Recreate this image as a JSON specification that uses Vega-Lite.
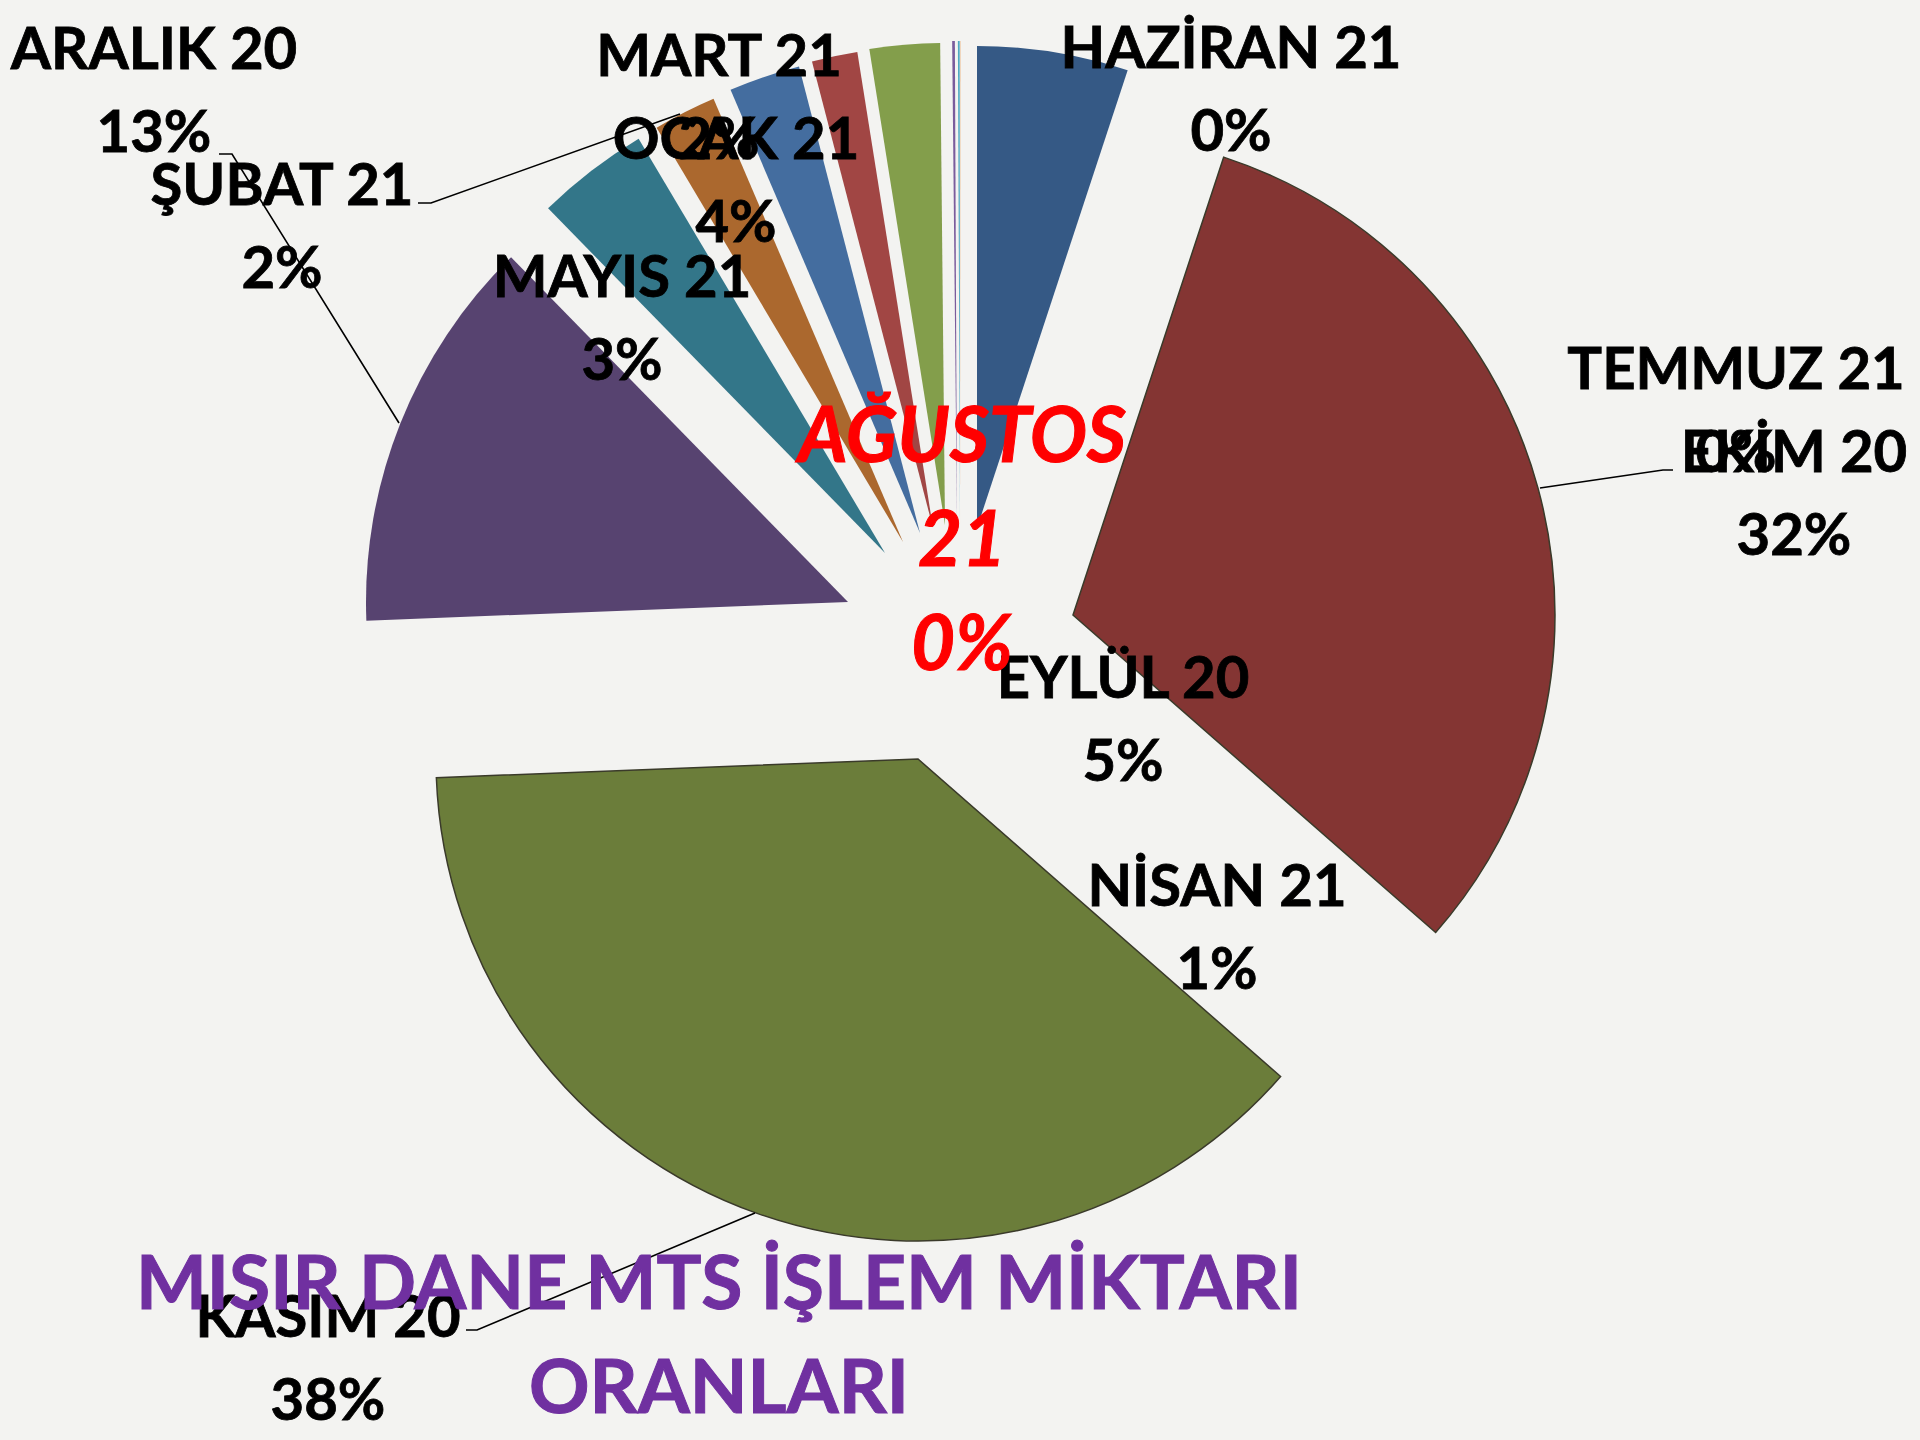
{"$schema":"https://vega.github.io/schema/vega-lite/v6.json","width":1920,"height":1440,"padding":0,"autosize":{"type":"none"},"background":"#f3f3f1","config":{"view":{"stroke":null}},
"datasets":{"slices":[
{"ay":"EYLÜL 20","sira":1,"oran":5.06,"patlamaX":16,"patlamaY":-45},
{"ay":"EKİM 20","sira":2,"oran":31.39,"patlamaX":112,"patlamaY":42},
{"ay":"KASIM 20","sira":3,"oran":37.94,"patlamaX":-43,"patlamaY":186},
{"ay":"ARALIK 20","sira":4,"oran":13.3,"patlamaX":-113,"patlamaY":29},
{"ay":"OCAK 21","sira":5,"oran":3.78,"patlamaX":-76,"patlamaY":-20},
{"ay":"ŞUBAT 21","sira":6,"oran":2.11,"patlamaX":-58,"patlamaY":-31},
{"ay":"MART 21","sira":7,"oran":2.39,"patlamaX":-41,"patlamaY":-40},
{"ay":"NİSAN 21","sira":8,"oran":1.53,"patlamaX":-28,"patlamaY":-45},
{"ay":"MAYIS 21","sira":9,"oran":2.35,"patlamaX":-16,"patlamaY":-48},
{"ay":"HAZİRAN 21","sira":10,"oran":0.09,"patlamaX":-4,"patlamaY":-50},
{"ay":"TEMMUZ 21","sira":11,"oran":0.06,"patlamaX":-1,"patlamaY":-50},
{"ay":"AĞUSTOS 21","sira":12,"oran":0.01,"patlamaX":0,"patlamaY":-50}],
"labels":[
{"etiket":"HAZİRAN 21\n0%","lx":270,"ly":-522},
{"etiket":"TEMMUZ 21\n0%","lx":775,"ly":-201},
{"etiket":"EKİM 20\n32%","lx":833,"ly":-118},
{"etiket":"EYLÜL 20\n5%","lx":162,"ly":108},
{"etiket":"NİSAN 21\n1%","lx":256,"ly":316},
{"etiket":"KASIM 20\n38%","lx":-633,"ly":747},
{"etiket":"ARALIK 20\n13%","lx":-807,"ly":-521},
{"etiket":"ŞUBAT 21\n2%","lx":-679,"ly":-385},
{"etiket":"MART 21\n2%","lx":-242,"ly":-514},
{"etiket":"OCAK 21\n4%","lx":-225,"ly":-431},
{"etiket":"MAYIS 21\n3%","lx":-339,"ly":-293}],
"agustos":[{"etiket":"AĞUSTOS\n21\n0%","lx":1,"ly":-134}],
"baslik":[{"etiket":"MISIR DANE MTS İŞLEM MİKTARI\nORANLARI","lx":-242,"ly":713}],
"leaders":[
{"hat":"EKİM","n":1,"px":579,"py":-85},{"hat":"EKİM","n":2,"px":702,"py":-103},{"hat":"EKİM","n":3,"px":712,"py":-103},
{"hat":"ARALIK","n":1,"px":-742,"py":-419},{"hat":"ARALIK","n":2,"px":-729,"py":-419},{"hat":"ARALIK","n":3,"px":-562,"py":-150},
{"hat":"ŞUBAT","n":1,"px":-543,"py":-370},{"hat":"ŞUBAT","n":2,"px":-530,"py":-370},{"hat":"ŞUBAT","n":3,"px":-281,"py":-459},
{"hat":"KASIM","n":1,"px":-495,"py":757},{"hat":"KASIM","n":2,"px":-484,"py":757},{"hat":"KASIM","n":3,"px":-206,"py":640}]},
"layer":[
{"data":{"name":"slices"},"mark":{"type":"arc","radius":482,"strokeWidth":1.5},
"encoding":{"theta":{"field":"oran","type":"quantitative","stack":true},"order":{"field":"sira","type":"quantitative"},
"x":{"field":"patlamaX","type":"quantitative","scale":{"domain":[-961,959],"nice":false},"axis":null},
"y":{"field":"patlamaY","type":"quantitative","scale":{"domain":[-573,867],"reverse":true,"nice":false},"axis":null},
"color":{"field":"ay","type":"nominal","legend":null,"scale":{"domain":["EYLÜL 20","EKİM 20","KASIM 20","ARALIK 20","OCAK 21","ŞUBAT 21","MART 21","NİSAN 21","MAYIS 21","HAZİRAN 21","TEMMUZ 21","AĞUSTOS 21"],"range":["#355985","#843533","#6b7d3a","#574370","#337689","#ab682e","#446d9f","#a14644","#839e4b","#7a5c9c","#4fa9c2","#e8964c"]}},
"stroke":{"condition":{"test":"datum.sira==2||datum.sira==3","value":"#3a3a2a"},"value":null}}},
{"data":{"name":"leaders"},"mark":{"type":"line","color":"#000000","strokeWidth":1.6},
"encoding":{"x":{"field":"px","type":"quantitative","scale":{"domain":[-961,959],"nice":false},"axis":null},"y":{"field":"py","type":"quantitative","scale":{"domain":[-573,867],"reverse":true,"nice":false},"axis":null},"detail":{"field":"hat"},"order":{"field":"n","type":"quantitative"}}},
{"data":{"name":"labels"},"mark":{"type":"text","font":"Lato","fontWeight":"bold","fontSize":58,"lineHeight":83,"lineBreak":"\n","align":"center","baseline":"middle","color":"#000000","stroke":"#000000","strokeWidth":0.8},
"encoding":{"x":{"field":"lx","type":"quantitative","scale":{"domain":[-961,959],"nice":false},"axis":null},"y":{"field":"ly","type":"quantitative","scale":{"domain":[-573,867],"reverse":true,"nice":false},"axis":null},"text":{"field":"etiket"}}},
{"data":{"name":"agustos"},"mark":{"type":"text","font":"Lato","fontWeight":"bold","fontStyle":"italic","fontSize":76,"lineHeight":104,"lineBreak":"\n","align":"center","baseline":"middle","color":"#ff0000","stroke":"#ff0000","strokeWidth":1},
"encoding":{"x":{"field":"lx","type":"quantitative","scale":{"domain":[-961,959],"nice":false},"axis":null},"y":{"field":"ly","type":"quantitative","scale":{"domain":[-573,867],"reverse":true,"nice":false},"axis":null},"text":{"field":"etiket"}}},
{"data":{"name":"baslik"},"mark":{"type":"text","font":"Lato","fontWeight":"bold","fontSize":75,"lineHeight":104,"lineBreak":"\n","align":"center","baseline":"middle","color":"#7030a0","stroke":"#7030a0","strokeWidth":1},
"encoding":{"x":{"field":"lx","type":"quantitative","scale":{"domain":[-961,959],"nice":false},"axis":null},"y":{"field":"ly","type":"quantitative","scale":{"domain":[-573,867],"reverse":true,"nice":false},"axis":null},"text":{"field":"etiket"}}}
]}
